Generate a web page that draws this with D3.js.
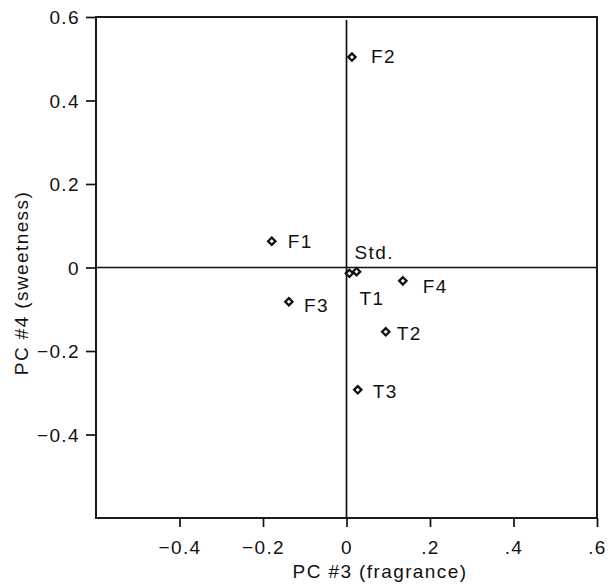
<!DOCTYPE html>
<html>
<head>
<meta charset="utf-8">
<script src="https://cdn.jsdelivr.net/npm/d3@7"></script>
<style>
  body { margin: 0; background: #fff; }
  svg text { font-family: "Liberation Sans", Arial, Helvetica, sans-serif; fill: #111; letter-spacing: 1.4px; }
</style>
</head>
<body>
<svg id="chart" width="612" height="586"></svg>
<script>
// samples and their scores on PC #3 / PC #4
const samples = ["F2", "F1", "Std.", "T1", "F4", "F3", "T2", "T3"];
const pc3     = [0.013, -0.179, 0.007, 0.024, 0.135, -0.138, 0.094, 0.027];
const pc4     = [0.504, 0.063, -0.014, -0.010, -0.032, -0.082, -0.154, -0.293];

const xTicks      = [-0.4, -0.2, 0, 0.2, 0.4, 0.6];
const xTickLabels = ["\u22120.4", "\u22120.2", "0", ".2", ".4", ".6"];
const yTicks      = [0.6, 0.4, 0.2, 0, -0.2, -0.4];
const yTickLabels = ["0.6", "0.4", "0.2", "0", "\u22120.2", "\u22120.4"];

// where each label sits relative to its marker
const labelOffset = {
    "F2": [19, 6], "F1": [16, 7], "Std.": [5, -14], "T1": [3, 33],
    "F4": [20, 12], "F3": [15, 10], "T2": [11, 8], "T3": [15, 8]
};

const plotLeft = 96, plotRight = 597, plotTop = 17, plotBottom = 518;

const x = d3.scaleLinear().domain([-0.6, 0.6]).range([plotLeft, plotRight]);
const y = d3.scaleLinear().domain([-0.6, 0.6]).range([plotBottom, plotTop]);

const svg = d3.select("#chart");

/*
    eixos
*/
const xAxis = svg.append("g")
    .attr("transform", `translate(0, ${plotBottom})`)
    .call(d3.axisBottom(x).tickValues(xTicks)
        .tickFormat((d, i) => xTickLabels[i]).tickSize(9).tickPadding(14));

const yAxis = svg.append("g")
    .attr("transform", `translate(${plotLeft}, 0)`)
    .call(d3.axisLeft(y).tickValues(yTicks)
        .tickFormat((d, i) => yTickLabels[i]).tickSize(10).tickPadding(6));

[xAxis, yAxis].forEach(a => {
    a.select(".domain").remove();
    a.selectAll("line").attr("stroke", "#111").attr("stroke-width", 1.7);
    a.selectAll("text").style("font-size", "19px").attr("fill", "#111");
});
yAxis.selectAll("text").attr("dy", "0.36em");

// frame
svg.append("rect")
    .attr("x", plotLeft).attr("y", plotTop)
    .attr("width", plotRight - plotLeft).attr("height", plotBottom - plotTop)
    .attr("fill", "none").attr("stroke", "#111").attr("stroke-width", 1.9);

// zero lines
svg.append("line")
    .attr("x1", plotLeft).attr("x2", plotRight)
    .attr("y1", y(0)).attr("y2", y(0))
    .attr("stroke", "#111").attr("stroke-width", 1.7);
svg.append("line")
    .attr("x1", x(0)).attr("x2", x(0))
    .attr("y1", plotTop + 3).attr("y2", plotBottom)
    .attr("stroke", "#111").attr("stroke-width", 1.7);

/*
    pontos
*/
const points = samples.map((s, i) => ({ name: s, x: pc3[i], y: pc4[i] }));

svg.append("g").selectAll("path")
    .data(points)
    .enter()
    .append("path")
    .attr("d", d3.symbol().type(d3.symbolDiamond2).size(34))
    .attr("transform", d => `translate(${x(d.x)}, ${y(d.y)})`)
    .attr("fill", "#fff")
    .attr("stroke", "#111")
    .attr("stroke-width", 2.3);

svg.append("g").selectAll("text")
    .data(points)
    .enter()
    .append("text")
    .attr("x", d => x(d.x) + labelOffset[d.name][0])
    .attr("y", d => y(d.y) + labelOffset[d.name][1])
    .style("font-size", "19px")
    .text(d => d.name);

// axis titles
svg.append("text")
    .attr("x", 380).attr("y", 578)
    .attr("text-anchor", "middle")
    .style("font-size", "19px")
    .text("PC #3 (fragrance)");

svg.append("text")
    .attr("transform", "translate(28, 283) rotate(-90)")
    .attr("text-anchor", "middle")
    .style("font-size", "19px")
    .text("PC #4 (sweetness)");
</script>
</body>
</html>
